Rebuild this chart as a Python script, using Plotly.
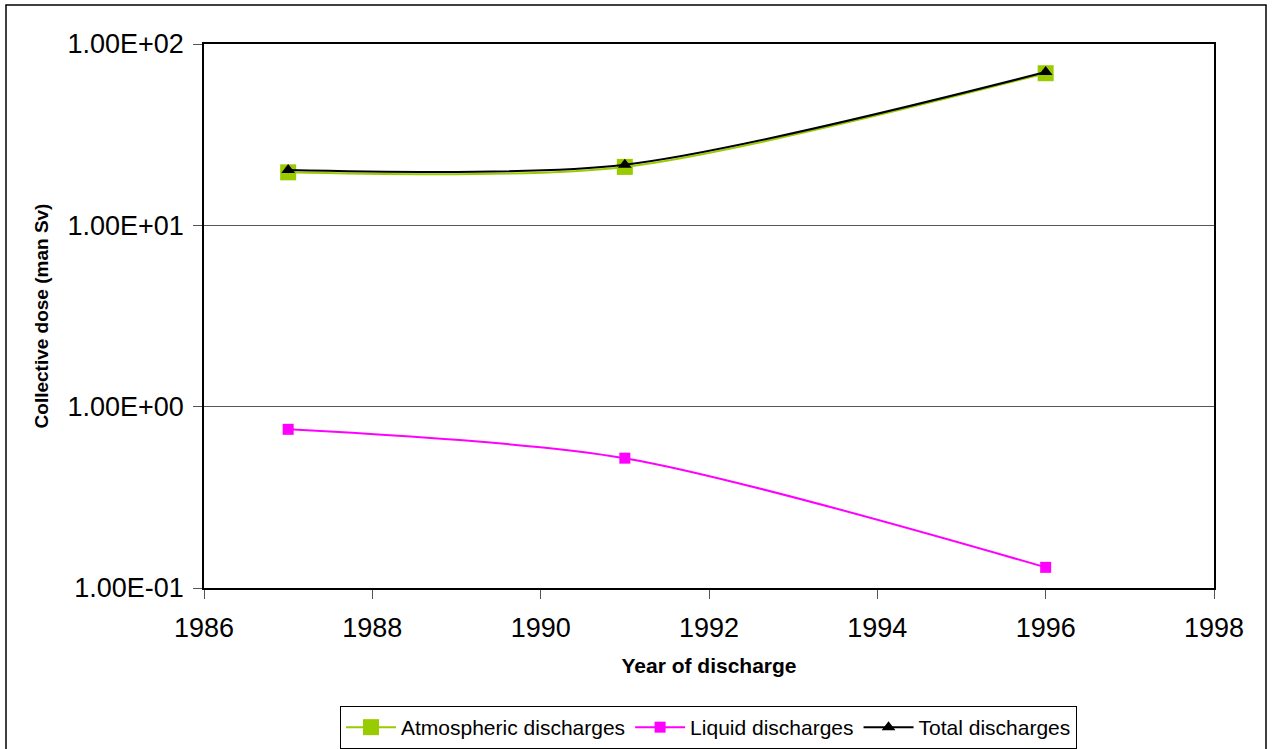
import plotly.graph_objects as go

years = [1987, 1991, 1996]
atmospheric = [19.6, 21.0, 69.0]
liquid = [0.75, 0.52, 0.13]
total = [20.2, 21.6, 70.0]

y_tickvals = [0.1, 1, 10, 100]
y_ticktext = ["1.00E-01", "1.00E+00", "1.00E+01", "1.00E+02"]
x_tickvals = [1986, 1988, 1990, 1992, 1994, 1996, 1998]

FONT = "Liberation Sans, Arial, sans-serif"

fig = go.Figure()
fig.add_trace(go.Scatter(
    x=years, y=atmospheric, name="Atmospheric discharges", mode="lines+markers",
    line=dict(color="#99CC00", width=2, shape="spline", smoothing=0.8),
    marker=dict(symbol="square", size=16, color="#99CC00"),
))
fig.add_trace(go.Scatter(
    x=years, y=liquid, name="Liquid discharges", mode="lines+markers",
    line=dict(color="#FF00FF", width=2, shape="spline", smoothing=0.8),
    marker=dict(symbol="square", size=11, color="#FF00FF"),
))
fig.add_trace(go.Scatter(
    x=years, y=total, name="Total discharges", mode="lines+markers",
    line=dict(color="#000000", width=2, shape="spline", smoothing=0.8),
    marker=dict(symbol="triangle-up", size=12, color="#000000"),
))

L, R, T, B = 204, 60, 44, 161
W, H = 1274, 749
pw, ph = W - L - R, H - T - B

def px(xp):
    return (xp - L) / pw

def py(yp):
    return (H - B - yp) / ph

fig.add_shape(type="rect", xref="paper", yref="paper",
              x0=px(6), x1=px(1266), y0=py(760), y1=py(5),
              line=dict(color="#000000", width=1.5), layer="below")

fig.update_layout(
    width=W, height=H,
    margin=dict(l=L, r=R, t=T, b=B, autoexpand=False),
    paper_bgcolor="white", plot_bgcolor="white",
    font=dict(family=FONT, color="#000000"),
    showlegend=True,
    legend=dict(
        orientation="h", x=0.4995, xanchor="center", y=py(706), yanchor="top",
        bordercolor="#000000", borderwidth=1, bgcolor="white",
        font=dict(size=21, family=FONT), itemwidth=50,
        tracegroupgap=0,
    ),
    xaxis=dict(
        range=[1986, 1998], tickvals=x_tickvals, ticks="outside", ticklen=9,
        tickcolor="#555555", showgrid=False, zeroline=False, automargin=False,
        showline=True, linecolor="#000000", linewidth=1.5, mirror=True,
        tickfont=dict(size=27, family=FONT), ticklabelstandoff=6,
        title=dict(text="<b>Year of discharge</b>", font=dict(size=21, family=FONT), standoff=16),
    ),
    yaxis=dict(
        type="log", range=[-1, 2], tickvals=y_tickvals, ticktext=y_ticktext,
        ticks="outside", ticklen=9, tickcolor="#555555", automargin=False,
        showgrid=True, gridcolor="#555555", gridwidth=1,
        showline=True, linecolor="#000000", linewidth=1.5, mirror=True,
        tickfont=dict(size=27, family=FONT), ticklabelstandoff=4,
        title=dict(text="<b>Collective dose (man Sv)</b>", font=dict(size=19, family=FONT), standoff=14),
    ),
)

fig.write_html("out.html")
